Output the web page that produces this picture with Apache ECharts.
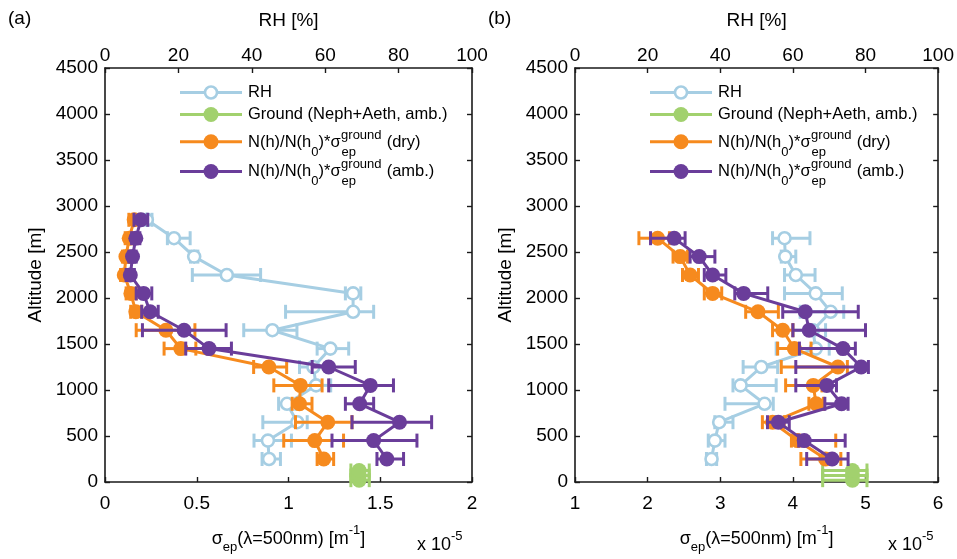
<!DOCTYPE html>
<html><head><meta charset="utf-8">
<script src="https://cdn.jsdelivr.net/npm/echarts@6/dist/echarts.min.js"></script>
<style>html,body{margin:0;padding:0;background:#fff}#c{width:957px;height:559px}</style>
</head><body><div id="c"></div>
<script>
// ---------------- data (sigma in units of 1e-5 m^-1) ----------------
const altitudes_a = [250,450,650,850,1050,1250,1450,1650,1850,2050,2250,2450,2650,2850];
const rh_a    = [44.7,44.4,52.4,49.6,57.5,56.8,61.4,45.6,67.6,67.6,33.2,24.3,18.8,11.4];
const rh_a_lo = [42.8,40.6,43.0,47.3,53.5,53.0,57.8,37.8,49.2,65.5,23.8,23.3,17.0,10.0];
const rh_a_hi = [47.8,50.8,55.1,52.0,61.5,60.5,66.4,52.3,73.2,69.7,42.4,25.3,23.2,12.8];
const dry_a    = [1.192,1.143,1.214,1.06,1.065,0.893,0.413,0.332,0.168,0.141,0.105,0.114,0.132,0.159];
const dry_a_lo = [1.156,0.974,1.038,1.02,0.92,0.81,0.322,0.17,0.14,0.115,0.085,0.095,0.11,0.13];
const dry_a_hi = [1.246,1.30,1.346,1.128,1.183,0.99,0.495,0.49,0.2,0.17,0.125,0.135,0.155,0.19];
const amb_a    = [1.536,1.464,1.605,1.388,1.446,1.219,0.567,0.431,0.246,0.21,0.138,0.150,0.168,0.196];
const amb_a_lo = [1.482,1.237,1.346,1.31,1.219,1.129,0.44,0.204,0.2,0.17,0.115,0.13,0.145,0.158];
const amb_a_hi = [1.627,1.70,1.78,1.464,1.572,1.364,0.689,0.66,0.29,0.255,0.16,0.17,0.19,0.233];

const ground_alt  = [20,70,125];
const ground_a    = [1.385,1.385,1.385];
const ground_a_lo = [1.34,1.34,1.34];
const ground_a_hi = [1.44,1.44,1.44];

const altitudes_b = [250,450,650,850,1050,1250,1450,1650,1850,2050,2250,2450,2650];
const rh_b    = [37.6,38.5,39.7,52.2,45.6,51.3,66.3,65.5,70.4,66.3,60.8,57.9,57.7];
const rh_b_lo = [36.2,36.7,38.5,41.3,43.5,46.3,55.4,60.0,62.0,57.7,57.7,56.8,54.4];
const rh_b_hi = [39.0,41.3,43.5,54.6,55.4,55.8,70.0,69.0,74.0,73.6,66.1,60.8,64.7];
const dry_b    = [4.45,4.064,3.72,4.32,4.28,4.62,4.02,3.86,3.52,2.895,2.585,2.448,2.138];
const dry_b_lo = [4.11,3.98,3.58,4.22,3.9,3.84,3.79,3.72,3.35,2.78,2.48,2.35,1.88];
const dry_b_hi = [4.66,4.59,3.88,4.42,4.4,4.75,4.25,4.0,3.8,3.02,2.7,2.55,2.3];
const amb_b    = [4.54,4.156,3.80,4.67,4.466,4.94,4.69,4.224,4.17,3.322,2.895,2.71,2.366];
const amb_b_lo = [4.19,4.08,3.65,4.44,4.04,4.04,4.09,4.0,3.86,3.2,2.78,2.585,2.04];
const amb_b_hi = [4.76,4.72,3.95,4.76,4.6,5.04,4.86,5.0,4.9,3.654,3.077,2.926,2.516];

const ground_b    = [4.82,4.82,4.82];
const ground_b_lo = [4.41,4.41,4.41];
const ground_b_hi = [5.02,5.02,5.02];

const altTicks = {min:0, max:4500, interval:500};
const sigmaTicks_a = {min:0, max:2, interval:0.5};
const sigmaTicks_b = {min:1, max:6, interval:1};
const rhTicks = {min:0, max:100, interval:20};

// ---------------- style ----------------
const FONT = '"Liberation Sans", Arial, Helvetica, sans-serif';
const C_RH = '#a6cee3', C_GR = '#a2d16e', C_DRY = '#f68a1e', C_AMB = '#6a3d9a';
const AX = '#1a1a1a';
const LW = 3, CAP = 7;

const chart = echarts.init(document.getElementById('c'), null, {renderer:'canvas'});

function axisBase(extra, labelMargin){
  return Object.assign({
    type:'value',
    axisLine:{show:true, onZero:false, lineStyle:{color:AX, width:1.6}},
    axisTick:{show:true, inside:true, length:5, lineStyle:{color:AX, width:1.4}},
    splitLine:{show:false},
    axisLabel:{color:'#000', fontSize:19, fontFamily:FONT, margin:labelMargin, formatter:(v)=>String(v)},
    nameTextStyle:{color:'#000', fontSize:19, fontFamily:FONT}
  }, extra);
}

const sigmaName = '{t|σ}{s|ep}{t|(λ=500nm) [m}{p|-1}{t|]}';
const sigmaRich = {
  t:{fontSize:18, fontFamily:FONT, color:'#000', lineHeight:30},
  s:{fontSize:13, fontFamily:FONT, color:'#000', lineHeight:13, verticalAlign:'bottom'},
  p:{fontSize:13, fontFamily:FONT, color:'#000', lineHeight:13, verticalAlign:'top'}
};

function errRender(color){
  return function(params, api){
    const y = api.value(2);
    const p1 = api.coord([api.value(0), y]);
    const p2 = api.coord([api.value(1), y]);
    const st = {stroke:color, lineWidth:LW};
    return {type:'group', children:[
      {type:'line', shape:{x1:p1[0], y1:p1[1], x2:p2[0], y2:p2[1]}, style:st},
      {type:'line', shape:{x1:p1[0], y1:p1[1]-CAP, x2:p1[0], y2:p1[1]+CAP}, style:st},
      {type:'line', shape:{x1:p2[0], y1:p2[1]-CAP, x2:p2[0], y2:p2[1]+CAP}, style:st}
    ]};
  };
}

function errSeries(name, xi, yi, lo, hi, alt, color, z){
  return {type:'custom', name:name, xAxisIndex:xi, yAxisIndex:yi, z:z,
    renderItem:errRender(color), encode:{x:[0,1], y:2},
    data: alt.map((h,i)=>[lo[i], hi[i], h]), animation:false, silent:true};
}
function lineSeries(name, xi, yi, vals, alt, color, hollow, z){
  return {type:'line', name:name, xAxisIndex:xi, yAxisIndex:yi, z:z,
    data: alt.map((h,i)=>[vals[i], h]),
    symbol:'circle', symbolSize: hollow ? 12 : 15, showSymbol:true,
    lineStyle:{color:color, width:LW},
    itemStyle: hollow ? {color:'#fff', borderColor:color, borderWidth:2.6} : {color:color, borderWidth:0},
    animation:false, silent:true, clip:false};
}

function panelSeries(d, xs, xr, yi){
  return [
    errSeries('RH err', xr, yi, d.rh_lo, d.rh_hi, d.alt, C_RH, 2),
    lineSeries('RH', xr, yi, d.rh, d.alt, C_RH, true, 3),
    errSeries('Ground err', xs, yi, d.g_lo, d.g_hi, ground_alt, C_GR, 4),
    lineSeries('Ground (Neph+Aeth, amb.)', xs, yi, d.g, ground_alt, C_GR, false, 5),
    errSeries('dry err', xs, yi, d.dry_lo, d.dry_hi, d.alt, C_DRY, 6),
    lineSeries('N(h)/N(h0)*σep ground (dry)', xs, yi, d.dry, d.alt, C_DRY, false, 7),
    errSeries('amb err', xs, yi, d.amb_lo, d.amb_hi, d.alt, C_AMB, 8),
    lineSeries('N(h)/N(h0)*σep ground (amb.)', xs, yi, d.amb, d.alt, C_AMB, false, 9)
  ];
}

const PA = {alt:altitudes_a, rh:rh_a, rh_lo:rh_a_lo, rh_hi:rh_a_hi, dry:dry_a, dry_lo:dry_a_lo, dry_hi:dry_a_hi,
  amb:amb_a, amb_lo:amb_a_lo, amb_hi:amb_a_hi, g:ground_a, g_lo:ground_a_lo, g_hi:ground_a_hi};
const PB = {alt:altitudes_b, rh:rh_b, rh_lo:rh_b_lo, rh_hi:rh_b_hi, dry:dry_b, dry_lo:dry_b_lo, dry_hi:dry_b_hi,
  amb:amb_b, amb_lo:amb_b_lo, amb_hi:amb_b_hi, g:ground_b, g_lo:ground_b_lo, g_hi:ground_b_hi};

// ---------------- legend (graphic) ----------------
const mctx = document.createElement('canvas').getContext('2d');
function tw(text, size){ mctx.font = size + 'px ' + FONT; return mctx.measureText(text).width; }
const LF = 16.5, SF = 13;
function txt(x, y, text, size){
  return {type:'text', x:x, y:y, z:100, silent:true,
    style:{text:text, fontSize:size, fontFamily:FONT, fill:'#000', align:'left', verticalAlign:'middle'}};
}
function legendIcon(x0, y, color, hollow){
  return [
    {type:'line', z:100, silent:true, shape:{x1:x0, y1:y, x2:x0+62, y2:y}, style:{stroke:color, lineWidth:LW}},
    {type:'circle', z:101, silent:true, shape:{cx:x0+31, cy:y, r: hollow ? 6 : 7.5},
      style: hollow ? {fill:'#fff', stroke:color, lineWidth:2.6} : {fill:color}}
  ];
}
function sigmaLegendText(x, y, tail){
  const els = [];
  const t1 = 'N(h)/N(h', t2 = ')*σ';
  els.push(txt(x, y, t1, LF));
  let cx = x + tw(t1, LF);
  els.push(txt(cx, y + 10, '0', SF));
  cx += tw('0', SF);
  els.push(txt(cx, y, t2, LF));
  cx += tw(t2, LF);
  els.push(txt(cx + 0.5, y - 7, 'ground', SF));
  els.push(txt(cx + 1, y + 10, 'ep', SF));
  cx += tw('ground', SF) + 1;
  els.push(txt(cx, y, tail, LF));
  return els;
}
function legendGraphic(x0){
  let els = [];
  els = els.concat(legendIcon(x0, 92.5, C_RH, true));
  els.push(txt(x0+68, 92.5, 'RH', LF));
  els = els.concat(legendIcon(x0, 114.5, C_GR, false));
  els.push(txt(x0+68, 114.5, 'Ground (Neph+Aeth, amb.)', LF));
  els = els.concat(legendIcon(x0, 141.7, C_DRY, false));
  els = els.concat(sigmaLegendText(x0+68, 142, ' (dry)'));
  els = els.concat(legendIcon(x0, 171.5, C_AMB, false));
  els = els.concat(sigmaLegendText(x0+68, 171.5, ' (amb.)'));
  return els;
}
function exponentLabel(x){
  return {type:'text', left:x, top:530, z:100, silent:true,
    style:{text:'{t|x 10}{p|-5}', fontFamily:FONT, fill:'#000',
      rich:{t:{fontSize:18, fontFamily:FONT, lineHeight:30}, p:{fontSize:13, fontFamily:FONT, lineHeight:13, verticalAlign:'top'}}}};
}

const option = {
  backgroundColor:'#fff',
  animation:false,
  grid:[
    {left:105, top:68, width:367, height:422, show:false},
    {left:575, top:68, width:365, height:422, show:false}
  ],
  xAxis:[
    axisBase(Object.assign({gridIndex:0, position:'bottom', name:sigmaName, nameLocation:'middle', nameGap:42,
      nameTextStyle:{rich:sigmaRich}}, sigmaTicks_a), 12),
    axisBase(Object.assign({gridIndex:0, position:'top', name:'RH [%]', nameLocation:'middle', nameGap:38}, rhTicks), 3),
    axisBase(Object.assign({gridIndex:1, position:'bottom', name:sigmaName, nameLocation:'middle', nameGap:42,
      nameTextStyle:{rich:sigmaRich}}, sigmaTicks_b), 12),
    axisBase(Object.assign({gridIndex:1, position:'top', name:'RH [%]', nameLocation:'middle', nameGap:38}, rhTicks), 3)
  ],
  yAxis:[
    axisBase(Object.assign({gridIndex:0, position:'left', name:'Altitude [m]', nameLocation:'middle', nameGap:60}, altTicks), 7),
    axisBase(Object.assign({gridIndex:0, position:'right', axisLabel:{show:false}}, altTicks), 7),
    axisBase(Object.assign({gridIndex:1, position:'left', name:'Altitude [m]', nameLocation:'middle', nameGap:60}, altTicks), 7),
    axisBase(Object.assign({gridIndex:1, position:'right', axisLabel:{show:false}}, altTicks), 7)
  ],
  series: panelSeries(PA, 0, 1, 0).concat(panelSeries(PB, 2, 3, 2)),
  graphic: [
    {type:'text', left:8, top:9, z:100, silent:true, style:{text:'(a)', fontSize:19, fontFamily:FONT, fill:'#000'}},
    {type:'text', left:488, top:9, z:100, silent:true, style:{text:'(b)', fontSize:19, fontFamily:FONT, fill:'#000'}},
    exponentLabel(417), exponentLabel(888)
  ].concat(legendGraphic(180)).concat(legendGraphic(650))
};
chart.setOption(option);
</script></body></html>
